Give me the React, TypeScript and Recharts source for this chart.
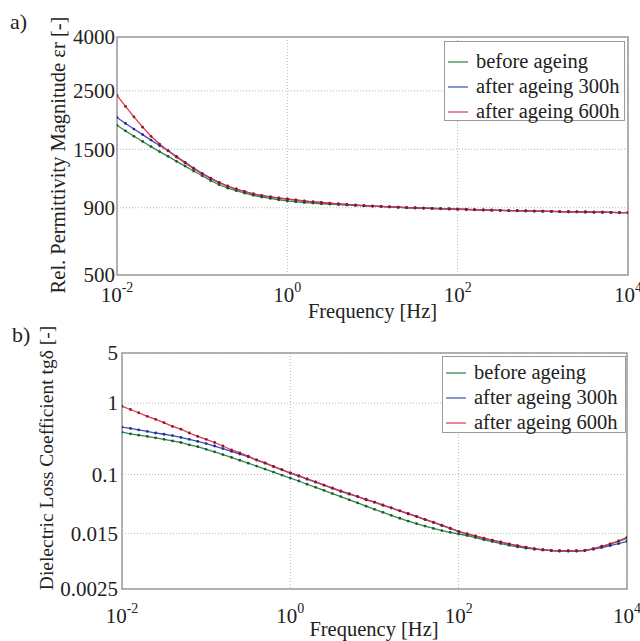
import { LineChart, Line, XAxis, YAxis, CartesianGrid, ReferenceArea, Label } from "recharts";

const FONT = '"Liberation Serif", "Times New Roman", Times, serif';

// frequency sweep [Hz], 10 points per decade
const freq = [
  0.01, 0.0126, 0.0158, 0.02, 0.0251, 0.0316, 0.0398, 0.0501, 0.0631, 0.0794,
  0.1, 0.126, 0.158, 0.2, 0.251, 0.316, 0.398, 0.501, 0.631, 0.794,
  1, 1.26, 1.58, 2, 2.51, 3.16, 3.98, 5.01, 6.31, 7.94,
  10, 12.6, 15.8, 20, 25.1, 31.6, 39.8, 50.1, 63.1, 79.4,
  100, 126, 158, 200, 251, 316, 398, 501, 631, 794,
  1000, 1260, 1580, 2000, 2510, 3160, 3980, 5010, 6310, 7940,
  10000,
];

// a) relative permittivity magnitude
const permBefore = [
  1850, 1760, 1680, 1605, 1535, 1470, 1410, 1350, 1295, 1240,
  1190, 1140, 1100, 1068, 1045, 1022, 1003, 988, 976, 965,
  955, 948, 942, 937, 932, 928, 924, 921, 918, 915,
  912, 909, 906, 903, 900, 898, 896, 894, 892, 890,
  888, 886, 884, 882, 881, 879, 878, 876, 875, 874,
  872, 871, 870, 869, 868, 867, 866, 865, 864, 863,
  862,
];
const perm300 = [
  1980, 1880, 1790, 1705, 1625, 1550, 1482, 1408, 1338, 1272,
  1216, 1166, 1124, 1088, 1060, 1036, 1016, 1000, 989, 979,
  970, 962, 954, 947, 941, 935, 930, 925, 920, 916,
  913, 910, 907, 904, 901, 899, 897, 895, 893, 891,
  889, 887, 885, 883, 881, 880, 878, 877, 875, 874,
  873, 871, 870, 869, 868, 867, 866, 865, 864, 863,
  862,
];
const perm600 = [
  2400, 2180, 1990, 1820, 1680, 1570, 1480, 1400, 1330, 1265,
  1210, 1160, 1120, 1085, 1058, 1035, 1015, 1000, 990, 980,
  972, 963, 955, 948, 942, 936, 931, 926, 921, 917,
  913, 910, 907, 904, 901, 899, 897, 895, 893, 891,
  889, 887, 885, 883, 881, 880, 878, 877, 875, 874,
  873, 871, 870, 869, 868, 867, 866, 865, 864, 863,
  862,
];

// b) dielectric loss coefficient tg delta
const lossBefore = [
  0.39, 0.37, 0.355, 0.34, 0.325, 0.31, 0.295, 0.28, 0.26, 0.245,
  0.225, 0.207, 0.19, 0.173, 0.158, 0.144, 0.131, 0.119, 0.108, 0.098,
  0.089, 0.081, 0.073, 0.066, 0.06, 0.054, 0.049, 0.0442, 0.04, 0.036,
  0.0325, 0.0295, 0.0268, 0.0244, 0.0223, 0.0205, 0.019, 0.0176, 0.0164, 0.0155,
  0.0147, 0.014, 0.0131, 0.0122, 0.0115, 0.0108, 0.0102, 0.0097, 0.0093, 0.009,
  0.0088, 0.0086, 0.0085, 0.0085, 0.0085, 0.0087, 0.0091, 0.0098, 0.0106, 0.0116,
  0.0128,
];
const loss300 = [
  0.46, 0.44, 0.42, 0.4, 0.38, 0.365, 0.35, 0.33, 0.31, 0.29,
  0.27, 0.25, 0.23, 0.21, 0.193, 0.177, 0.159, 0.144, 0.129, 0.116,
  0.104, 0.095, 0.086, 0.078, 0.071, 0.064, 0.058, 0.053, 0.049, 0.044,
  0.041, 0.037, 0.034, 0.031, 0.028, 0.0258, 0.0234, 0.0213, 0.0193, 0.0176,
  0.0159, 0.0147, 0.0137, 0.0128, 0.012, 0.0113, 0.0106, 0.01, 0.0095, 0.0091,
  0.0088, 0.0086, 0.0085, 0.0085, 0.0085, 0.0086, 0.009, 0.0095, 0.0101, 0.0108,
  0.0116,
];
const loss600 = [
  0.9, 0.81, 0.73, 0.65, 0.59, 0.53, 0.47, 0.43, 0.38, 0.34,
  0.31, 0.28, 0.25, 0.22, 0.2, 0.18, 0.16, 0.145, 0.13, 0.117,
  0.105, 0.096, 0.087, 0.079, 0.071, 0.065, 0.059, 0.054, 0.049, 0.045,
  0.041, 0.0375, 0.034, 0.031, 0.0285, 0.026, 0.0236, 0.0215, 0.0195, 0.0177,
  0.016, 0.0148, 0.0138, 0.0129, 0.0121, 0.0114, 0.0107, 0.0101, 0.0096, 0.0092,
  0.0089, 0.0087, 0.0086, 0.0086, 0.0086, 0.0087, 0.0092, 0.0099, 0.0107, 0.0118,
  0.0132,
];

const freqTicks = [0.01, 1, 100, 10000];
const permTicks = [500, 900, 1500, 2500, 4000];
const lossTicks = [0.0025, 0.015, 0.1, 1, 5];

const seriesNames = ["before ageing", "after ageing 300h", "after ageing 600h"];
const colors = ["#2f8a45", "#3f4fc4", "#e3334e"];
const dotColors = ["#1e5a2c", "#24307a", "#8a1a2c"];
const legendColors = ["#7fb08f", "#8a92d0", "#e58a98"];

const permData = freq.map((f, i) => ({ f, a: permBefore[i], b: perm300[i], c: perm600[i] }));
const lossData = freq.map((f, i) => ({ f, a: lossBefore[i], b: loss300[i], c: loss600[i] }));

const PowTick = (props: any) => {
  const { x, y, payload, off } = props;
  const exp = Math.round(Math.log10(payload.value));
  return (
    <text x={x} y={y + off} textAnchor="middle" fontFamily={FONT} fontSize={21} fill="#222">
      <tspan>10</tspan>
      <tspan fontSize={14} dy={-10}>{exp}</tspan>
    </text>
  );
};

// legend drawn as plain html over the plot, so it doesn't eat chart space
function LegendBox({ left, top, w, h, rows }: { left: number; top: number; w: number; h: number; rows: number[] }) {
  return (
    <div
      style={{
        position: "absolute",
        left,
        top,
        width: w,
        height: h,
        boxSizing: "border-box",
        border: "1.5px solid #9a9a9a",
        background: "#fff",
        fontFamily: FONT,
        fontSize: 20.5,
        color: "#222",
      }}
    >
      {seriesNames.map((n, i) => (
        <div key={n}>
          <div
            style={{
              position: "absolute",
              left: 3,
              width: 20,
              top: rows[i] - 1,
              height: 1.5,
              background: legendColors[i],
            }}
          />
          <div style={{ position: "absolute", left: 31, top: rows[i] - 13, lineHeight: "24px", whiteSpace: "nowrap" }}>
            {n}
          </div>
        </div>
      ))}
    </div>
  );
}

function lines() {
  return ["a", "b", "c"].map((k, i) => (
    <Line
      key={k}
      type="linear"
      dataKey={k}
      name={seriesNames[i]}
      stroke={colors[i]}
      strokeWidth={1.3}
      dot={{ r: 1.4, fill: dotColors[i], stroke: "none" }}
      activeDot={false}
      isAnimationActive={false}
    />
  ));
}

const tickStyle = { fontSize: 21, fill: "#222", fontFamily: FONT };

function rotatedLabel(text: string, x: number, y: number, size: number) {
  return () => (
    <text
      x={x}
      y={y}
      transform={`rotate(-90, ${x}, ${y})`}
      textAnchor="middle"
      fontFamily={FONT}
      fontSize={size}
      fill="#222"
    >
      {text}
    </text>
  );
}

function bottomLabel(x: number, y: number) {
  return () => (
    <text x={x} y={y} textAnchor="middle" fontFamily={FONT} fontSize={20.5} fill="#222">
      Frequency [Hz]
    </text>
  );
}

function PermChart() {
  // svg a bit taller than its slot so the axis title's descenders aren't clipped
  return (
    <LineChart width={640} height={330} data={permData} margin={{ top: 37, right: 12, left: 0, bottom: 0 }}>
      <CartesianGrid stroke="#b5b5b5" strokeDasharray="1 2" />
      <XAxis
        dataKey="f"
        type="number"
        scale="log"
        domain={[0.01, 10000]}
        ticks={freqTicks}
        interval={0}
        allowDataOverflow
        axisLine={false}
        tickLine={false}
        tickSize={0}
        height={55}
        tick={(p: any) => <PowTick {...p} off={25} />}
      >
        <Label content={bottomLabel(372.5, 318)} />
      </XAxis>
      <YAxis
        type="number"
        scale="log"
        domain={[500, 4000]}
        ticks={permTicks}
        interval={0}
        allowDataOverflow
        width={117}
        axisLine={false}
        tickLine={false}
        tickSize={0}
        tickMargin={2}
        tick={tickStyle}
      >
        <Label content={rotatedLabel("Rel. Permittivity Magnitude εr [-]", 65, 155, 20.5)} />
      </YAxis>
      <ReferenceArea x1={0.01} x2={10000} y1={500} y2={4000} fill="none" stroke="#9a9a9a" strokeWidth={1.5} />
      {lines()}
    </LineChart>
  );
}

function LossChart() {
  return (
    <LineChart width={640} height={330} data={lossData} margin={{ top: 33, right: 13, left: 0, bottom: 0 }}>
      <CartesianGrid stroke="#b5b5b5" strokeDasharray="1 2" />
      <XAxis
        dataKey="f"
        type="number"
        scale="log"
        domain={[0.01, 10000]}
        ticks={freqTicks}
        interval={0}
        allowDataOverflow
        axisLine={false}
        tickLine={false}
        tickSize={0}
        height={61}
        tick={(p: any) => <PowTick {...p} off={32} />}
      >
        <Label content={bottomLabel(374, 316)} />
      </XAxis>
      <YAxis
        type="number"
        scale="log"
        domain={[0.0025, 5]}
        ticks={lossTicks}
        interval={0}
        allowDataOverflow
        width={122}
        axisLine={false}
        tickLine={false}
        tickSize={0}
        tickMargin={4}
        tick={tickStyle}
      >
        <Label content={rotatedLabel("Dielectric Loss Coefficient  tgδ [-]", 53, 138, 19.5)} />
      </YAxis>
      <ReferenceArea x1={0.01} x2={10000} y1={0.0025} y2={5} fill="none" stroke="#9a9a9a" strokeWidth={1.5} />
      {lines()}
    </LineChart>
  );
}

export default function App() {
  const tag = { position: "absolute" as const, fontFamily: FONT, fontSize: 22, lineHeight: "22px", color: "#222" };
  return (
    <div style={{ position: "absolute", left: 0, top: 0, width: 640, height: 641, background: "#fff", overflow: "hidden" }}>
      <div style={{ position: "absolute", left: 0, top: 0 }}>
        <PermChart />
      </div>
      <div style={{ position: "absolute", left: 0, top: 320 }}>
        <LossChart />
      </div>
      <LegendBox left={444} top={41} w={181} h={80} rows={[20, 45, 70]} />
      <LegendBox left={442} top={356} w={184} h={77} rows={[16, 41, 66]} />
      <div style={{ ...tag, left: 10, top: 11 }}>a)</div>
      <div style={{ ...tag, left: 12, top: 324 }}>b)</div>
    </div>
  );
}
